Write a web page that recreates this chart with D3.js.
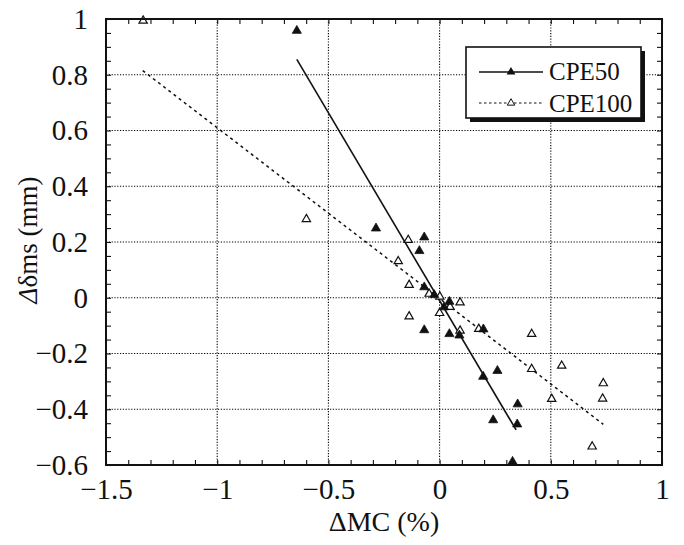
<!DOCTYPE html>
<html>
<head>
<meta charset="utf-8">
<script src="https://cdn.jsdelivr.net/npm/d3@7/dist/d3.min.js"></script>
<style>
  html, body { margin: 0; padding: 0; background: #fff; }
  svg text { font-family: 'Liberation Serif', 'Times New Roman', serif; fill: #111; }
</style>
</head>
<body>
<div id="chart"></div>
<script>
// ΔMC (%) vs Δδms (mm) — CPE50 / CPE100
const xTicks = [-1.5, -1, -0.5, 0, 0.5, 1];
const yTicks = [-0.6, -0.4, -0.2, 0, 0.2, 0.4, 0.6, 0.8, 1];

const cpe50 = [
  [-0.642, 0.958], [-0.286, 0.249], [-0.069, 0.217], [-0.091, 0.168],
  [-0.069, 0.038], [-0.024, 0.010], [0.044, -0.014], [0.020, -0.034],
  [-0.069, -0.116], [0.044, -0.130], [0.089, -0.135], [0.197, -0.113],
  [0.196, -0.283], [0.260, -0.262], [0.351, -0.382], [0.241, -0.439],
  [0.349, -0.454], [0.328, -0.588]
];
const cpe100 = [
  [-1.333, 0.994], [-0.599, 0.282], [-0.141, 0.207], [-0.186, 0.131],
  [-0.137, 0.046], [-0.047, 0.014], [0.001, 0.004], [0.092, -0.017],
  [0.047, -0.033], [0.000, -0.055], [-0.137, -0.067], [0.092, -0.118],
  [0.176, -0.112], [0.414, -0.130], [0.414, -0.256], [0.549, -0.244],
  [0.504, -0.363], [0.736, -0.307], [0.733, -0.362], [0.686, -0.534]
];
const fit50 = [[-0.642, 0.855], [0.344, -0.474]];
const fit100 = [[-1.335, 0.815], [0.736, -0.454]];
const seriesNames = ['CPE50', 'CPE100'];

const W = 684, H = 545;
const margin = { top: 19, right: 22, bottom: 80, left: 106 };
const width = W - margin.left - margin.right;
const height = H - margin.top - margin.bottom;

const svg = d3.select('#chart').append('svg')
  .attr('width', W).attr('height', H);
const g = svg.append('g')
  .attr('transform', `translate(${margin.left},${margin.top})`);

const x = d3.scaleLinear().domain([-1.5, 1]).range([0, width]);
const y = d3.scaleLinear().domain([-0.6, 1]).range([height, 0]);

// dotted grid
g.append('g').selectAll('line')
  .data(xTicks.slice(1, -1)).enter().append('line')
  .attr('x1', d => x(d)).attr('x2', d => x(d))
  .attr('y1', 0).attr('y2', height)
  .attr('stroke', '#000').attr('stroke-width', 1.1)
  .attr('stroke-dasharray', '1.2,1.6');
g.append('g').selectAll('line')
  .data(yTicks.slice(1, -1)).enter().append('line')
  .attr('y1', d => y(d)).attr('y2', d => y(d))
  .attr('x1', 0).attr('x2', width)
  .attr('stroke', '#000').attr('stroke-width', 1.1)
  .attr('stroke-dasharray', '1.2,1.6');

// minor ticks on frame
const xMinor = d3.range(-15, 11).map(d => d / 10);
const yMinor = d3.range(-12, 21).map(d => d / 20);
g.append('g').call(d3.axisBottom(x).tickValues(xMinor).tickSize(5).tickFormat(''))
  .call(s => s.select('.domain').remove());
g.append('g').call(d3.axisTop(x).tickValues(xMinor).tickSize(5).tickFormat(''))
  .attr('transform', `translate(0,${height})`)
  .call(s => s.select('.domain').remove());
g.append('g').call(d3.axisRight(y).tickValues(yMinor).tickSize(5).tickFormat(''))
  .call(s => s.select('.domain').remove());
g.append('g').call(d3.axisLeft(y).tickValues(yMinor).tickSize(5).tickFormat(''))
  .attr('transform', `translate(${width},0)`)
  .call(s => s.select('.domain').remove());
g.selectAll('.tick line').attr('stroke', '#111').attr('stroke-width', 1.1);

// tick labels
const xAxis = g.append('g').attr('transform', `translate(0,${height})`)
  .call(d3.axisBottom(x).tickValues(xTicks).tickSize(0).tickPadding(13)
    .tickFormat(d => d3.format('')(d)));
xAxis.select('.domain').remove();
xAxis.selectAll('text').style('font-size', '29px')
  .style('font-family', "'Liberation Serif', serif").attr('fill', '#111');

const yAxis = g.append('g')
  .call(d3.axisLeft(y).tickValues(yTicks).tickSize(0).tickPadding(18)
    .tickFormat(d => d3.format('')(d)));
yAxis.select('.domain').remove();
yAxis.selectAll('text').style('font-size', '29px')
  .style('font-family', "'Liberation Serif', serif").attr('fill', '#111');

// fit lines
const line = d3.line().x(d => x(d[0])).y(d => y(d[1]));
g.append('path').datum(fit50).attr('d', line)
  .attr('fill', 'none').attr('stroke', '#111').attr('stroke-width', 1.6);
g.append('path').datum(fit100).attr('d', line)
  .attr('fill', 'none').attr('stroke', '#111').attr('stroke-width', 1.5)
  .attr('stroke-dasharray', '3,3.5');

// markers
const tri = d3.symbol().type(d3.symbolTriangle);
g.append('g').selectAll('path').data(cpe100).enter().append('path')
  .attr('d', tri.size(30)())
  .attr('transform', d => `translate(${x(d[0])},${y(d[1])})`)
  .attr('fill', '#fff').attr('stroke', '#111').attr('stroke-width', 1.2);
g.append('g').selectAll('path').data(cpe50).enter().append('path')
  .attr('d', tri.size(36)())
  .attr('transform', d => `translate(${x(d[0])},${y(d[1])})`)
  .attr('fill', '#111').attr('stroke', '#111').attr('stroke-width', 0.8);

// frame
g.append('rect').attr('width', width).attr('height', height)
  .attr('fill', 'none').attr('stroke', '#111').attr('stroke-width', 2);

// legend
const lg = svg.append('g').attr('transform', 'translate(466,47)');
lg.append('rect').attr('x', 4).attr('y', 4).attr('width', 175).attr('height', 71)
  .attr('fill', '#111');
lg.append('rect').attr('width', 175).attr('height', 71)
  .attr('fill', '#fff').attr('stroke', '#111').attr('stroke-width', 1.6);
lg.append('line').attr('x1', 13).attr('x2', 77).attr('y1', 25).attr('y2', 25)
  .attr('stroke', '#111').attr('stroke-width', 1.5);
lg.append('path').attr('d', tri.size(34)()).attr('transform', 'translate(45,25)')
  .attr('fill', '#111');
lg.append('line').attr('x1', 13).attr('x2', 77).attr('y1', 56).attr('y2', 56)
  .attr('stroke', '#111').attr('stroke-width', 1.2).attr('stroke-dasharray', '2.5,2.5');
lg.append('path').attr('d', tri.size(24)()).attr('transform', 'translate(45,56)')
  .attr('fill', '#fff').attr('stroke', '#111').attr('stroke-width', 1);
lg.selectAll('text.lbl').data(seriesNames).enter().append('text')
  .attr('class', 'lbl')
  .attr('x', 83).attr('y', (d, i) => 33 + i * 32)
  .style('font-size', '25px')
  .text(d => d);

// axis titles
svg.append('text')
  .attr('x', margin.left + width / 2).attr('y', 531)
  .attr('text-anchor', 'middle')
  .style('font-size', '28px')
  .text('ΔMC (%)');

const yt = svg.append('text')
  .attr('transform', `translate(37,${margin.top + height / 2 - 2}) rotate(-90)`)
  .attr('text-anchor', 'middle')
  .style('font-size', '27px');
yt.append('tspan').style('font-style', 'italic').text('Δ');
yt.append('tspan').text('δms (mm)');
</script>
</body>
</html>
